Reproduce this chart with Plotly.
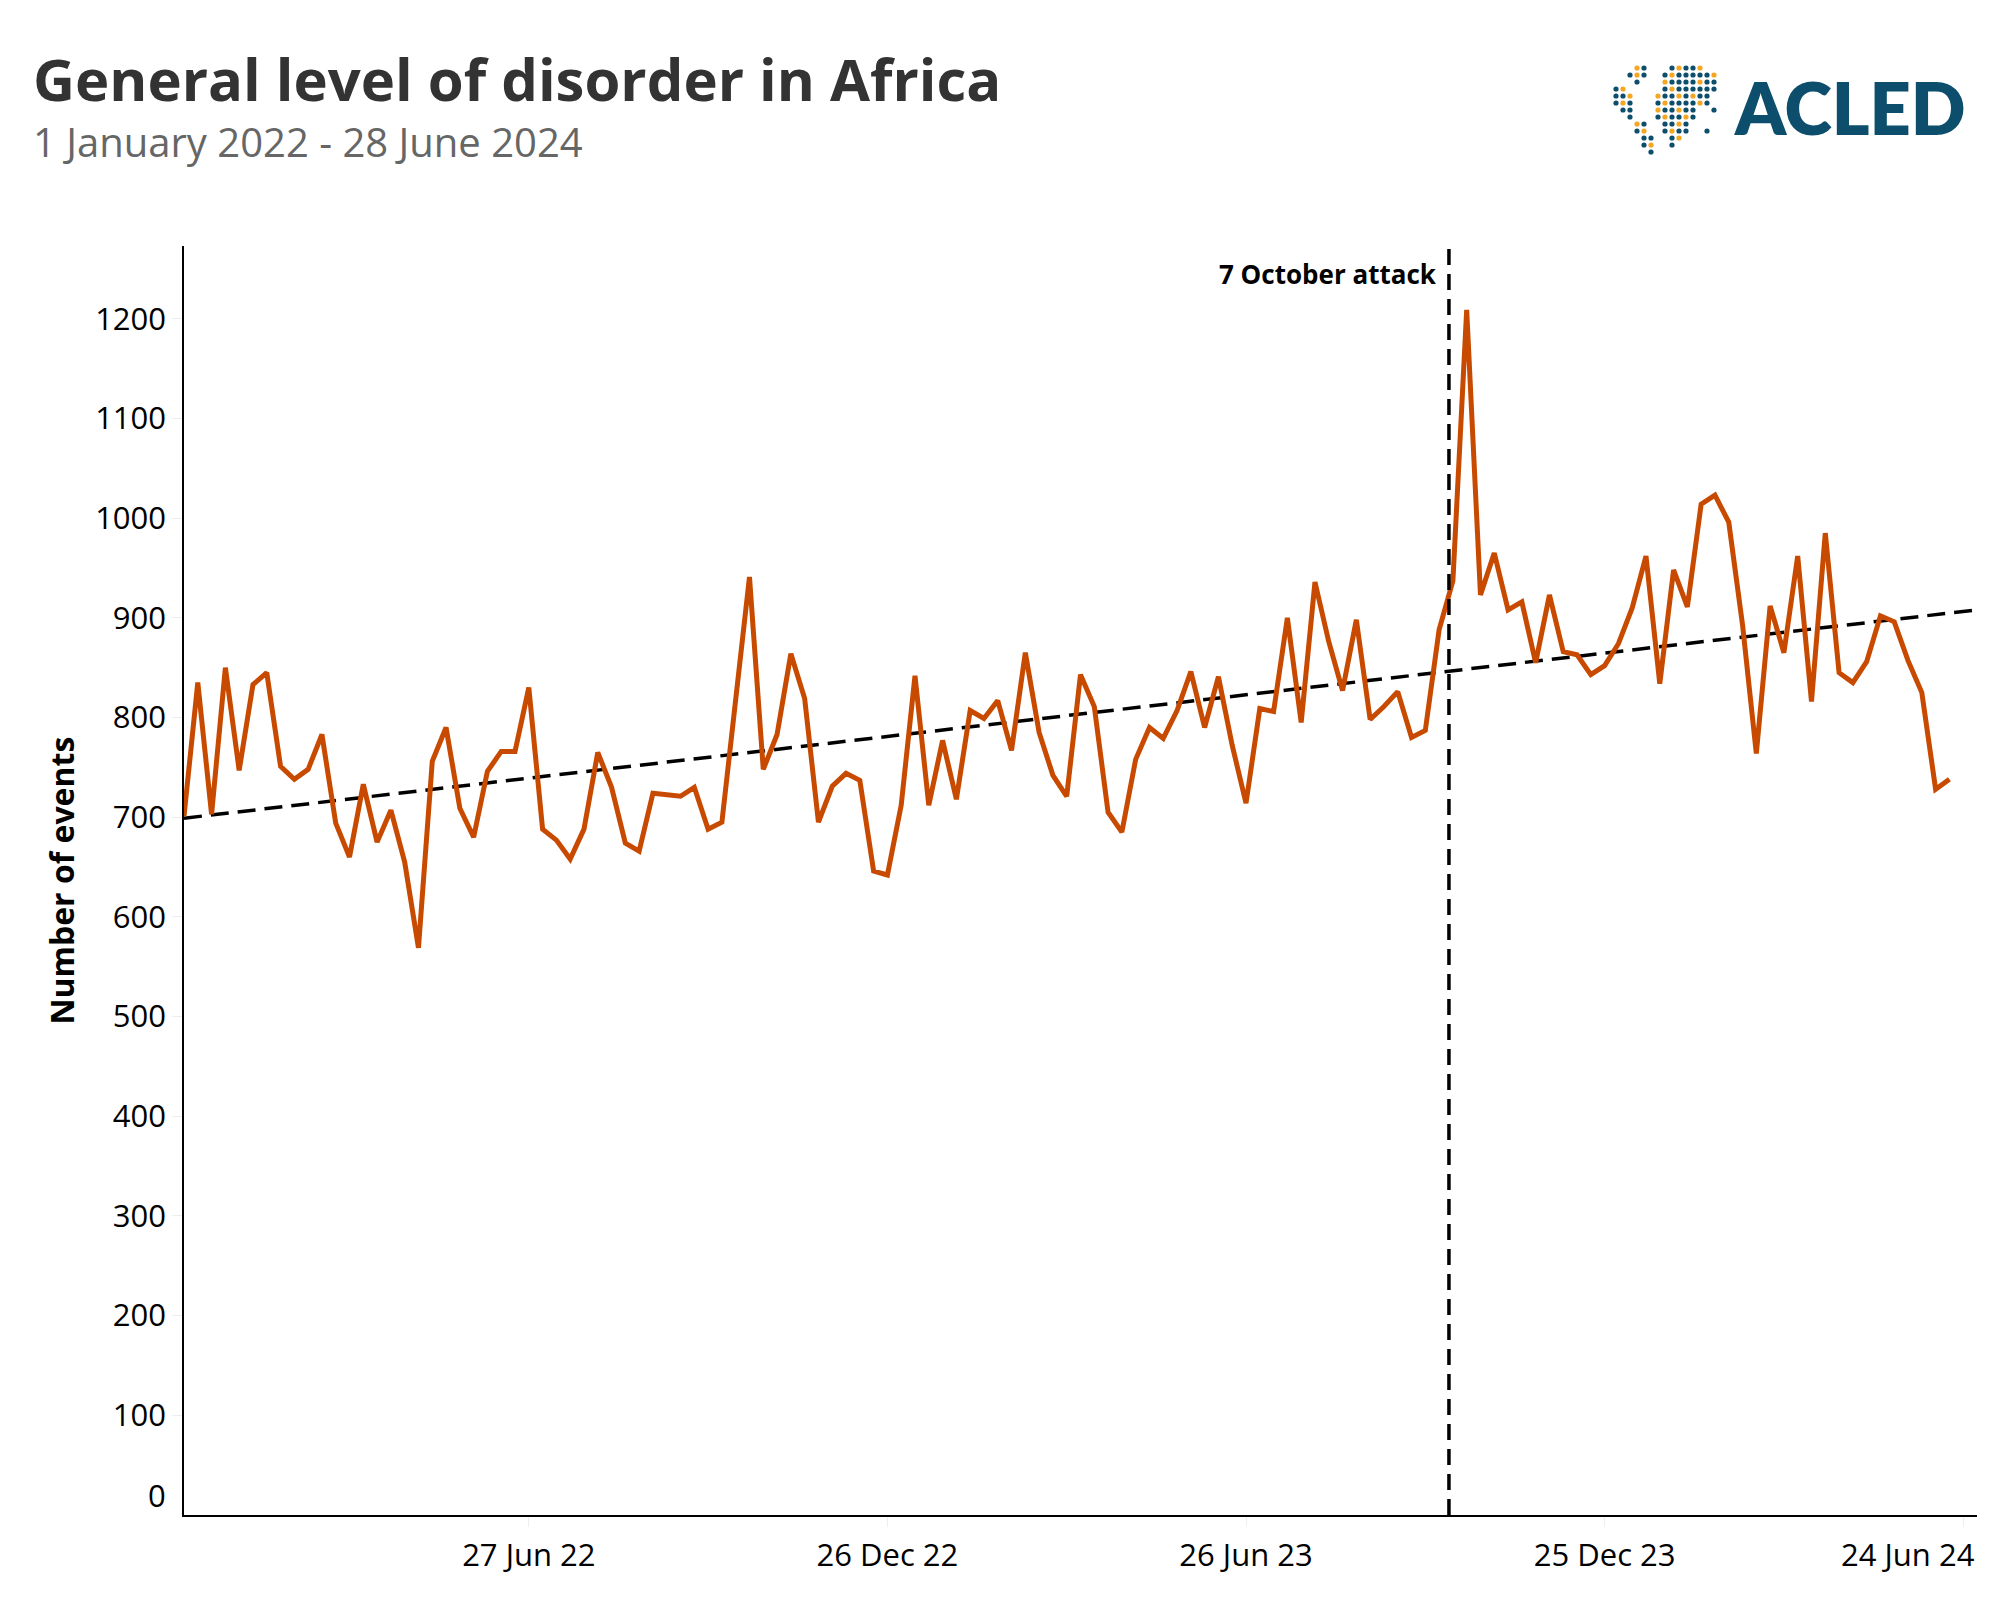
import plotly.graph_objects as go
import pandas as pd

# ---------------- data ----------------
start_week = "2022-01-03"
events = [701, 835, 703, 850, 747, 833, 845, 751, 738, 748,
          783, 694, 660, 733, 675, 707, 655, 569, 756, 790,
          709, 680, 746, 766, 766, 830, 688, 677, 658, 688,
          765, 730, 674, 666, 724, 722, 721, 730, 688, 695,
          818, 941, 748, 783, 864, 819, 695, 731, 744, 737,
          646, 642, 712, 842, 712, 777, 718, 807, 799, 817,
          767, 865, 785, 742, 721, 843, 811, 705, 685, 758,
          790, 779, 807, 846, 790, 841, 772, 714, 809, 806,
          900, 795, 936, 876, 827, 898, 798, 811, 826, 780,
          787, 888, 937, 1209, 923, 965, 908, 916, 855, 923,
          866, 863, 843, 852, 874, 910, 962, 834, 948, 911,
          1014, 1023, 996, 893, 764, 912, 865, 962, 816, 985,
          845, 835, 856, 902, 896, 857, 825, 728, 738]
weeks = pd.date_range(start_week, periods=len(events), freq="7D")

trend_dates = ["2022-01-03", "2024-07-01"]
trend_values = [699, 908]

event_date = "2023-10-07"
event_label = "7 October attack"

x_tick_dates = ["2022-06-27", "2022-12-26", "2023-06-26", "2023-12-25", "2024-06-24"]
x_tick_labels = ["27 Jun 22", "26 Dec 22", "26 Jun 23", "25 Dec 23", "24 Jun 24"]
y_tick_values = [100, 200, 300, 400, 500, 600, 700, 800, 900, 1000, 1100, 1200]

title_text = "General level of disorder in Africa"
subtitle_text = "1 January 2022 - 28 June 2024"
y_title = "Number of events"

# ---------------- layout helpers ----------------
W, H = 2000, 1600
L, R, T, B = 184, 23, 246, 85
PW, PH = W - L - R, H - T - B


def px(x):
    return (x - L) / PW


def py(y):
    return (T + PH - y) / PH


FONT = "Open Sans"
LINE_COLOR = "#C84A00"

fig = go.Figure()

fig.add_trace(go.Scatter(
    x=trend_dates, y=trend_values, mode="lines",
    line=dict(color="black", width=3.5, dash="18px,9px"),
    hoverinfo="skip", showlegend=False))

fig.add_trace(go.Scatter(
    x=weeks, y=events, mode="lines",
    line=dict(color=LINE_COLOR, width=5),
    showlegend=False))

fig.add_shape(type="line", xref="x", yref="paper",
              x0=event_date, x1=event_date, y0=0, y1=1,
              line=dict(color="black", width=3.5, dash="16px,9px"))

annotations = [
    dict(text=event_label, x=event_date, y=1245, xref="x", yref="y",
         xanchor="right", yanchor="middle", xshift=-10, showarrow=False,
         font=dict(family=FONT, size=26, color="black", weight=700)),
    dict(text=title_text, x=px(31), y=py(78), xref="paper", yref="paper",
         xanchor="left", yanchor="middle", showarrow=False,
         font=dict(family=FONT, size=58, color="#333333", weight=700)),
    dict(text=subtitle_text, x=px(31), y=py(141), xref="paper", yref="paper",
         xanchor="left", yanchor="middle", showarrow=False,
         font=dict(family=FONT, size=40, color="#666666")),
    dict(text=y_title, x=px(61), y=0.5, xref="paper", yref="paper",
         xanchor="center", yanchor="middle", textangle=-90, showarrow=False,
         font=dict(family=FONT, size=32, color="black", weight=700)),
    dict(text="0", x=px(168), y=0, xref="paper", yref="y",
         xanchor="right", yanchor="middle", yshift=20, showarrow=False,
         font=dict(family=FONT, size=31, color="black")),
    # last x tick label kept inside the chart, right-aligned to the axis end
    dict(text=x_tick_labels[-1], x=1.0, y=0, xref="paper", yref="paper",
         xanchor="right", yanchor="top", yshift=-16, showarrow=False,
         font=dict(family=FONT, size=31, color="black")),
    dict(text="ACLED", x=px(1968), y=py(107), xref="paper", yref="paper",
         xanchor="right", yanchor="middle", showarrow=False,
         font=dict(family="Lato", size=72, color="#0C4E6C", weight=800)),
]

# ---- decorative logo globe (dot pattern) ----
globe_mask = [
    "   o#   #o##o  ",
    "  #o#  #o#####o",
    "   #   o####o##",
    "#o     #o######",
    "##o   o##o#o## ",
    "#o#   #o####o# ",
    " ##   o##o##  #",
    "  #   #o##o#   ",
    "   o#  ##o#    ",
    "   #o  #o##  # ",
    "    ##  #o     ",
    "    #o  #      ",
    "     #         ",
]
gx0, gy0, step, rad = 1616, 68, 7.0, 2.6
for r, row in enumerate(globe_mask):
    for c, ch in enumerate(row):
        if ch == " ":
            continue
        cx, cy = gx0 + c * step, gy0 + r * step
        col = "#0C4E6C" if ch == "#" else "#F5A623"
        fig.add_shape(type="circle", xref="paper", yref="paper",
                      x0=px(cx - rad), x1=px(cx + rad),
                      y0=py(cy + rad), y1=py(cy - rad),
                      fillcolor=col, line=dict(width=0))

fig.update_layout(
    width=W, height=H,
    margin=dict(l=L, r=R, t=T, b=B, autoexpand=False),
    paper_bgcolor="white", plot_bgcolor="white",
    font=dict(family=FONT, color="black"),
    annotations=annotations,
    xaxis=dict(
        type="date",
        range=["2022-01-03", "2024-07-01"],
        tickvals=x_tick_dates,
        ticktext=x_tick_labels[:-1] + [""],
        tickfont=dict(family=FONT, size=31, color="black"),
        showgrid=False, zeroline=False,
        showline=True, linecolor="black", linewidth=2,
        ticks="outside", ticklen=10, tickcolor="#eeeeee", tickwidth=1,
        ticklabelstandoff=2,
    ),
    yaxis=dict(
        range=[0, 1273],
        tickvals=y_tick_values,
        tickfont=dict(family=FONT, size=31, color="black"),
        showgrid=False, zeroline=False,
        showline=True, linecolor="black", linewidth=1.5,
        ticks="outside", ticklen=10, tickcolor="#eeeeee", tickwidth=1,
        ticklabelstandoff=0,
    ),
)

fig.write_html("out.html", config={"displayModeBar": False},
               post_script="document.body.style.margin='0';")
